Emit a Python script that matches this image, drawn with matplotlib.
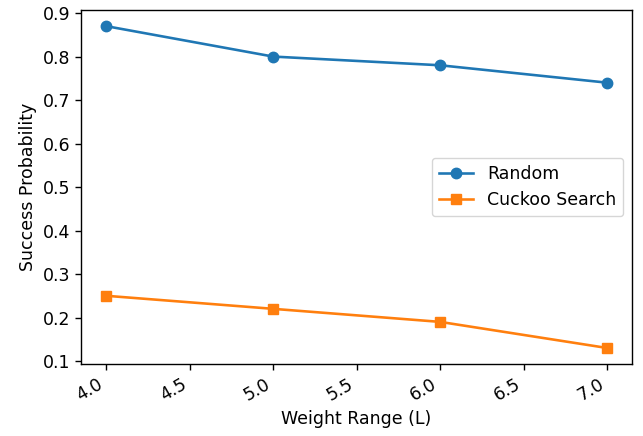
import matplotlib
matplotlib.use("Agg")
import matplotlib.pyplot as plt

weight_range = [4, 5, 6, 7]
random_prob = [0.87, 0.80, 0.78, 0.74]
cuckoo_prob = [0.25, 0.22, 0.19, 0.13]

# reference looks like an upscaled notebook figure, so scale everything up a bit
s = 1.25
plt.rcParams['font.size'] = 10 * s
plt.rcParams['lines.linewidth'] = 1.5 * s
plt.rcParams['lines.markersize'] = 6 * s
plt.rcParams['axes.linewidth'] = 0.8 * s
plt.rcParams['xtick.major.size'] = 3.5 * s
plt.rcParams['ytick.major.size'] = 3.5 * s
plt.rcParams['xtick.major.width'] = 0.8 * s
plt.rcParams['ytick.major.width'] = 0.8 * s

fig = plt.figure(figsize=(6.43, 4.36), dpi=100)
ax = fig.add_axes([0.126, 0.165, 0.857, 0.812])

ax.plot(weight_range, random_prob, marker='o', label='Random')
ax.plot(weight_range, cuckoo_prob, marker='s', label='Cuckoo Search')

ax.set_xlabel("Weight Range (L)")
ax.set_ylabel("Success Probability")
ax.legend(loc='center right')

for lbl in ax.get_xticklabels():
    lbl.set_rotation(30)
    lbl.set_ha('right')

fig.savefig("out.png", dpi=100)
